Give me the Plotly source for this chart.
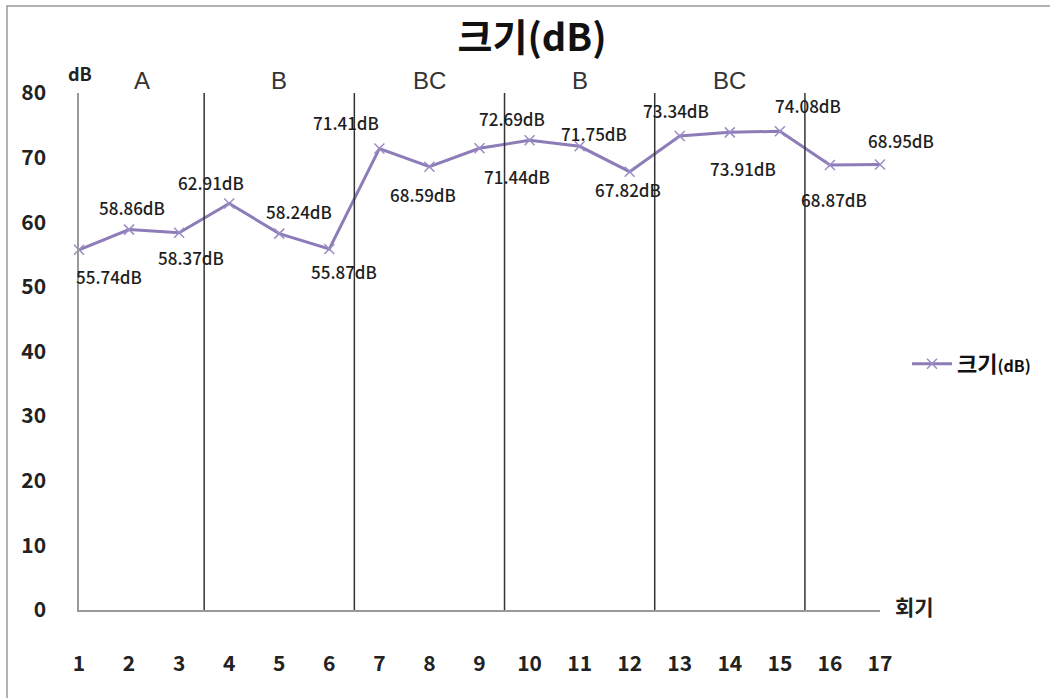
import plotly.graph_objects as go

# ---- data ----
sessions = list(range(1, 18))
loudness = [55.74, 58.86, 58.37, 62.91, 58.24, 55.87, 71.41, 68.59, 71.44,
            72.69, 71.75, 67.82, 73.34, 73.91, 74.08, 68.87, 68.95]
phase_bounds = [3.5, 6.5, 9.5, 12.5, 15.5]
phase_names = ["A", "B", "BC", "B", "BC"]
phase_centers = [2.25, 5, 8, 11, 14]
y_ticks = [0, 10, 20, 30, 40, 50, 60, 70, 80]

# label offsets (pixels) for the value labels
lab_dx = [30, 3, 12, -18, 20, 15, -33, -6, 37, -18, 14, -2, -4, 13, 28, 4, 21]
lab_dy = [27, -22, 25, -21, -22, 23, -26, 28, 28, -22, -13, 18, -26, 36, -26, 35, -24]

FONT = "Noto Sans CJK KR"
LINE_COLOR = "#8d7cb8"

fig = go.Figure()
fig.add_trace(go.Scatter(
    x=sessions, y=loudness, mode="lines+markers",
    name="<b>크기<span style='font-size:16px'>(dB)</span></b>",
    line=dict(color=LINE_COLOR, width=3),
    marker=dict(symbol="x-thin", size=10, line=dict(color="#9c8cc4", width=1.5)),
    cliponaxis=False,
))

annotations = []
for x, y, dx, dy in zip(sessions, loudness, lab_dx, lab_dy):
    annotations.append(dict(
        x=x, y=y, xref="x", yref="y", text=f"{y:.2f}dB", showarrow=False,
        xshift=dx, yshift=-dy,
        font=dict(family=FONT, size=17, color="#1e1e1e", weight=500),
    ))
for cx, name in zip(phase_centers, phase_names):
    annotations.append(dict(
        x=cx, y=80, xref="x", yref="y", text=name, showarrow=False,
        yshift=13, font=dict(family="Liberation Sans, Arial", size=24, color="#333"),
    ))
annotations.append(dict(x=1, y=80, xref="x", yref="y", text="<b>dB</b>", showarrow=False,
                        yshift=20, xshift=1, font=dict(family=FONT, size=18, color="#222")))
annotations.append(dict(x=1.0, y=0, xref="paper", yref="y", text="<b>회기</b>", showarrow=False,
                        xanchor="left", xshift=13, yshift=4,
                        font=dict(family=FONT, size=21, color="#222")))

shapes = []
for b in phase_bounds:
    shapes.append(dict(type="line", xref="x", yref="y", x0=b, x1=b, y0=0, y1=80,
                       line=dict(color="#333", width=1.5)))
# outer frame (partially clipped like the reference)
shapes.append(dict(type="rect", xref="paper", yref="paper",
                   x0=(7 - 79) / 801, x1=1.3, y0=-0.3, y1=(610 - 6) / 517,
                   line=dict(color="#999", width=1.5)))

fig.update_layout(
    width=1050, height=698,
    margin=dict(l=79, r=170, t=93, b=88),
    paper_bgcolor="white", plot_bgcolor="white",
    title=dict(text="<b>크기(dB)</b>", x=532 / 1050, xanchor="center",
               y=1 - 38 / 698, yanchor="middle", yref="container",
               font=dict(family=FONT, size=38, color="#111")),
    xaxis=dict(range=[1, 17], tickvals=sessions, ticktext=[str(s) for s in sessions],
               showgrid=False, zeroline=False, showline=True, linecolor="#999", linewidth=1.5,
               ticks="", ticklabelstandoff=34,
               tickfont=dict(family=FONT, size=21, color="#222", weight="bold")),
    yaxis=dict(range=[0, 80], tickvals=y_ticks, showgrid=False, zeroline=False,
               showline=True, linecolor="#999", linewidth=1.5, ticks="",
               ticklabelstandoff=27,
               tickfont=dict(family=FONT, size=21, color="#222", weight="bold")),
    legend=dict(x=(907 - 79) / 801, y=(610 - 364) / 517, xanchor="left", yanchor="middle",
                itemwidth=40,
                font=dict(family=FONT, size=22, color="#111"), bgcolor="rgba(0,0,0,0)"),
    showlegend=True,
    annotations=annotations, shapes=shapes,
)

fig.write_html("out.html")
